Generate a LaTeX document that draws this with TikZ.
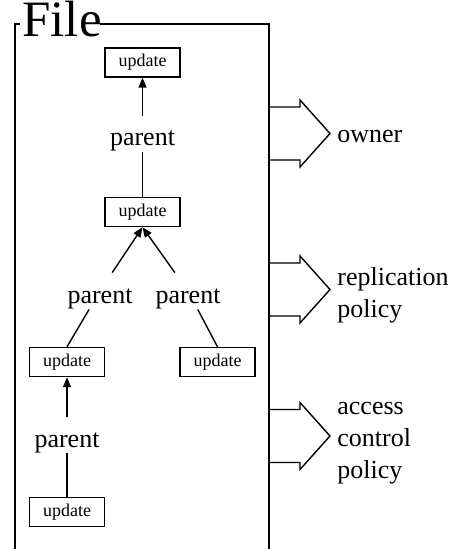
\documentclass[tikz,border=0pt]{standalone}
\usepackage{fontspec}
\setmainfont{Liberation Serif}
\usetikzlibrary{arrows.meta}
\tikzset{
  updatebox/.style={draw, line width=0.7pt, minimum width=37.5pt, minimum height=14.5pt, inner sep=0pt, font=\fontsize{9}{11}\selectfont},
  parentlabel/.style={inner sep=0pt, text height=15pt, text depth=3pt, font=\fontsize{13}{15.5}\selectfont},
  sidelabel/.style={anchor=west, inner sep=0pt, align=left, font=\fontsize{13}{16}\selectfont},
  link/.style={line width=0.7pt},
  tolink/.style={line width=0.7pt, -{Triangle[length=5pt,width=4pt]}}
}
\begin{document}
\begin{tikzpicture}[x=0.5pt, y=-0.5pt]
      \useasboundingbox (0,0) rectangle (464,549);
      % file frame
      \node(file) at (22,37) [anchor=base west, inner sep=0pt, font=\fontsize{25.5}{25.5}\selectfont] {File};
      \draw[line width=0.7pt] (15,549) |- (20,24);
      \draw[line width=0.7pt] (100,24) -| (269,549);
      % updates
      \node[updatebox](u1) at (142.5,62.5) {update};
      \node[updatebox](u2) at (142.5,212) {update};
      \node[updatebox](u3) at (67,362) {update};
      \node[updatebox](u4) at (217.5,362) {update};
      \node[updatebox](u5) at (67,512) {update};
      \node[parentlabel](p1) at (142.5,134) {parent};
      \node[parentlabel](pl) at (100,291) {parent};
      \node[parentlabel](pr) at (188,291) {parent};
      \node[parentlabel](p3) at (67,435) {parent};
      \draw[tolink] (p1) -- (u1);
      \draw[link] (u2) -- (p1);
      \draw[tolink] (pl) -- (u2.south);
      \draw[tolink] (pr) -- (u2.south);
      \draw[link] (pl) -- (u3.north);
      \draw[link] (pr) -- (u4.north);
      \draw[tolink] (p3) -- (u3);
      \draw[link] (u5) -- (p3);
      % attributes
      \draw[link] (270,107) -- (300,107) -- (300,100) -- (330,133.5) -- (300,167) -- (300,160) -- (270,160);
      \draw[link] (270,263) -- (300,263) -- (300,256) -- (330,289.5) -- (300,323) -- (300,316) -- (270,316);
      \draw[link] (270,409.5) -- (300,409.5) -- (300,402.5) -- (330,436) -- (300,469.5) -- (300,462.5) -- (270,462.5);
      \node[sidelabel](owner) at (337,137) {owner};
      \node[sidelabel](repl) at (337,295) {replication\\policy};
      \node[sidelabel](acc) at (337,443) {access\\control\\policy};
    \end{tikzpicture}
\end{document}
